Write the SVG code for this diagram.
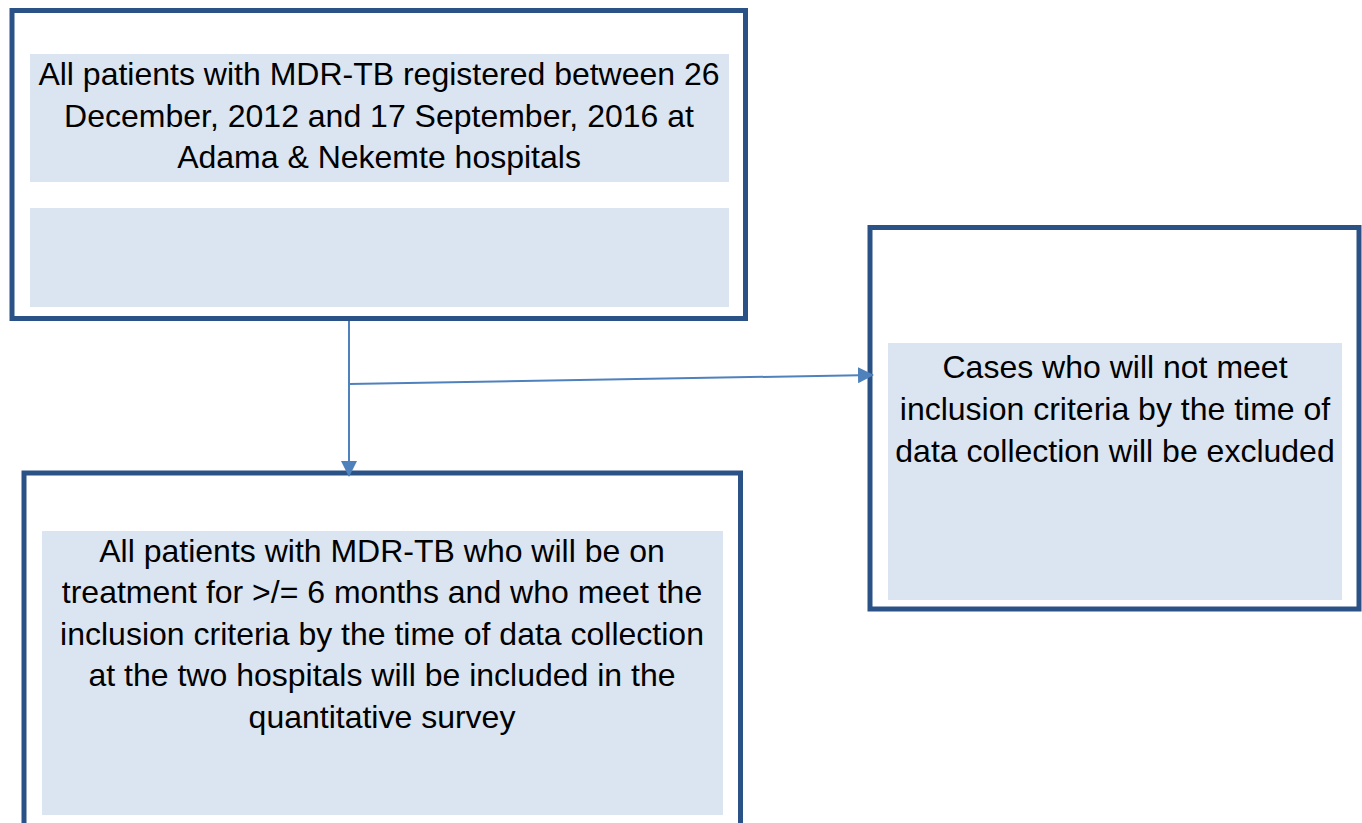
<svg xmlns="http://www.w3.org/2000/svg" width="1362" height="823" viewBox="0 0 1362 823">
<defs>
<style>
.box{fill:#ffffff;stroke:#2a5286;stroke-width:5}
.shade{fill:#dbe5f1}
.t{font-family:"Liberation Sans",Arial,sans-serif;font-size:32px;fill:#000;text-anchor:middle}
.conn{stroke:#4f81bd;stroke-width:2;fill:none}
</style>
<marker id="arr" markerWidth="16" markerHeight="16" refX="15" refY="8" orient="auto" markerUnits="userSpaceOnUse">
<path d="M0,0 L16,8 L0,16 Z" fill="#4f81bd"/>
</marker>
</defs>
<rect width="1362" height="823" fill="#ffffff"/>
<g id="node-top">
<rect class="box" x="12" y="10.5" width="733.5" height="308"/>
<rect class="shade" x="30" y="54" width="699" height="128"/>
<rect class="shade" x="30" y="208" width="699" height="99"/>
<text class="t" x="379" y="85">All patients with MDR-TB registered between 26</text>
<text class="t" x="379" y="126.5">December, 2012 and 17 September, 2016 at</text>
<text class="t" x="379" y="168">Adama &amp; Nekemte hospitals</text>
</g>
<g id="node-excluded">
<rect class="box" x="870" y="227.5" width="489" height="381.5"/>
<rect class="shade" x="888" y="343" width="454" height="257"/>
<text class="t" x="1115" y="377.5">Cases who will not meet</text>
<text class="t" x="1115" y="419.5">inclusion criteria by the time of</text>
<text class="t" x="1115" y="461.5">data collection will be excluded</text>
</g>
<g id="node-included">
<rect class="box" x="24" y="473" width="716.5" height="370"/>
<rect class="shade" x="42" y="531" width="681" height="284"/>
<text class="t" x="382" y="561.5">All patients with MDR-TB who will be on</text>
<text class="t" x="382" y="603">treatment for &gt;/= 6 months and who meet the</text>
<text class="t" x="382" y="644.5">inclusion criteria by the time of data collection</text>
<text class="t" x="382" y="686">at the two hospitals will be included in the</text>
<text class="t" x="382" y="727.5">quantitative survey</text>
</g>
<g id="connectors">
<line class="conn" x1="349" y1="321" x2="349" y2="476" marker-end="url(#arr)"/>
<line class="conn" x1="349" y1="384" x2="873" y2="375" marker-end="url(#arr)"/>
</g>
</svg>
